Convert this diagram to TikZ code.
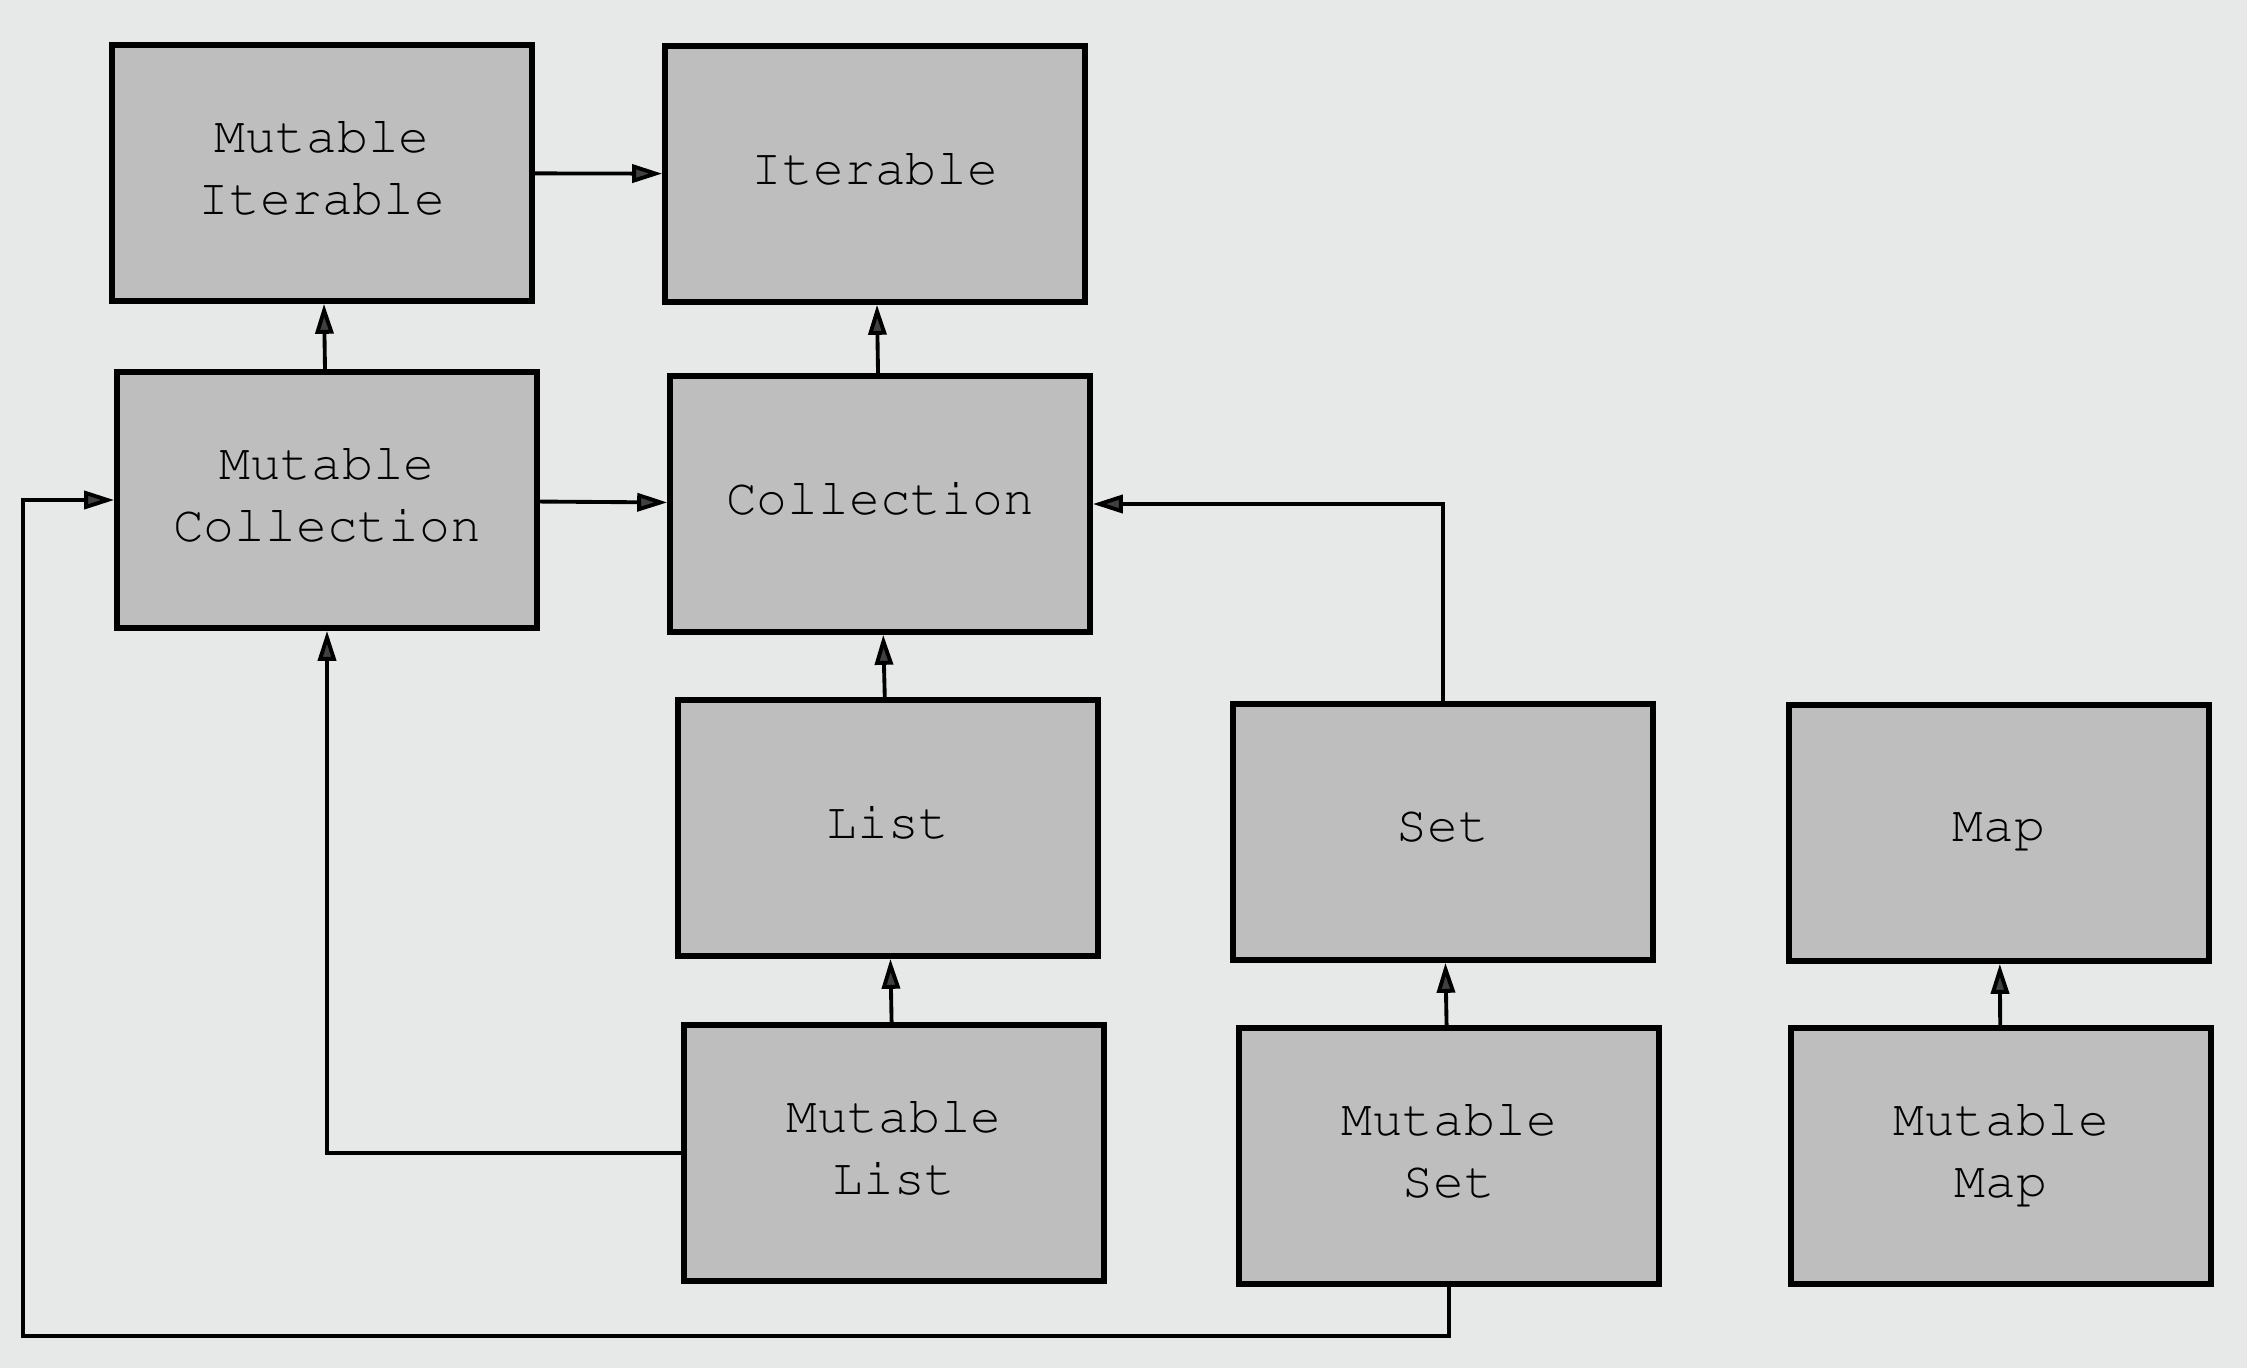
\documentclass[tikz,border=0pt]{standalone}
\usepackage[T1]{fontenc}
\usepackage{courier}
\usetikzlibrary{arrows.meta}
\definecolor{paper}{RGB}{231,233,233}
\definecolor{boxgray}{RGB}{190,190,190}
\begin{document}
\begin{tikzpicture}[
        cls/.style={draw, line width=1.6pt, fill=boxgray, minimum width=4.2cm,
            minimum height=2.56cm, align=center, text depth=0.12cm,
            font=\ttfamily\fontsize{14.6}{17.6}\selectfont},
        inh/.style={line width=1.1pt, -{Triangle[length=3mm,width=1.8mm,fill=black!75]}}
    ]
    \fill [paper] (0,0) rectangle (22.47,-13.68);
    \node [cls] (mutiter) at (3.22,-1.73) {Mutable\\Iterable};
    \node [cls] (iter) at (8.75,-1.74) {Iterable};
    \node [cls] (mutcoll) at (3.27,-5.0) {Mutable\\Collection};
    \node [cls] (coll) at (8.80,-5.04) {Collection};
    \node [cls] (list) at (8.88,-8.28) {List};
    \node [cls] (set) at (14.43,-8.32) {Set};
    \node [cls] (map) at (19.99,-8.33) {Map};
    \node [cls] (mutlist) at (8.94,-11.53) {Mutable\\List};
    \node [cls] (mutset) at (14.49,-11.56) {Mutable\\Set};
    \node [cls] (mutmap) at (20.01,-11.56) {Mutable\\Map};
    \coordinate (corner) at (0.23,-13.36);
    \draw [inh] (mutiter) -- (iter);
    \draw [inh] (mutcoll) -- (mutiter);
    \draw [inh] (coll) -- (iter);
    \draw [inh] (mutcoll) -- (coll);
    \draw [inh] (list) -- (coll);
    \draw [inh] (set.north) |- (coll.east);
    \draw [inh] (mutlist.west) -| (mutcoll.south);
    \draw [inh] (mutset.south) |- (corner) |- (mutcoll.west);
    \draw [inh] (mutlist) -- (list);
    \draw [inh] (mutset) -- (set);
    \draw [inh] (mutmap) -- (map);
\end{tikzpicture}
\end{document}
